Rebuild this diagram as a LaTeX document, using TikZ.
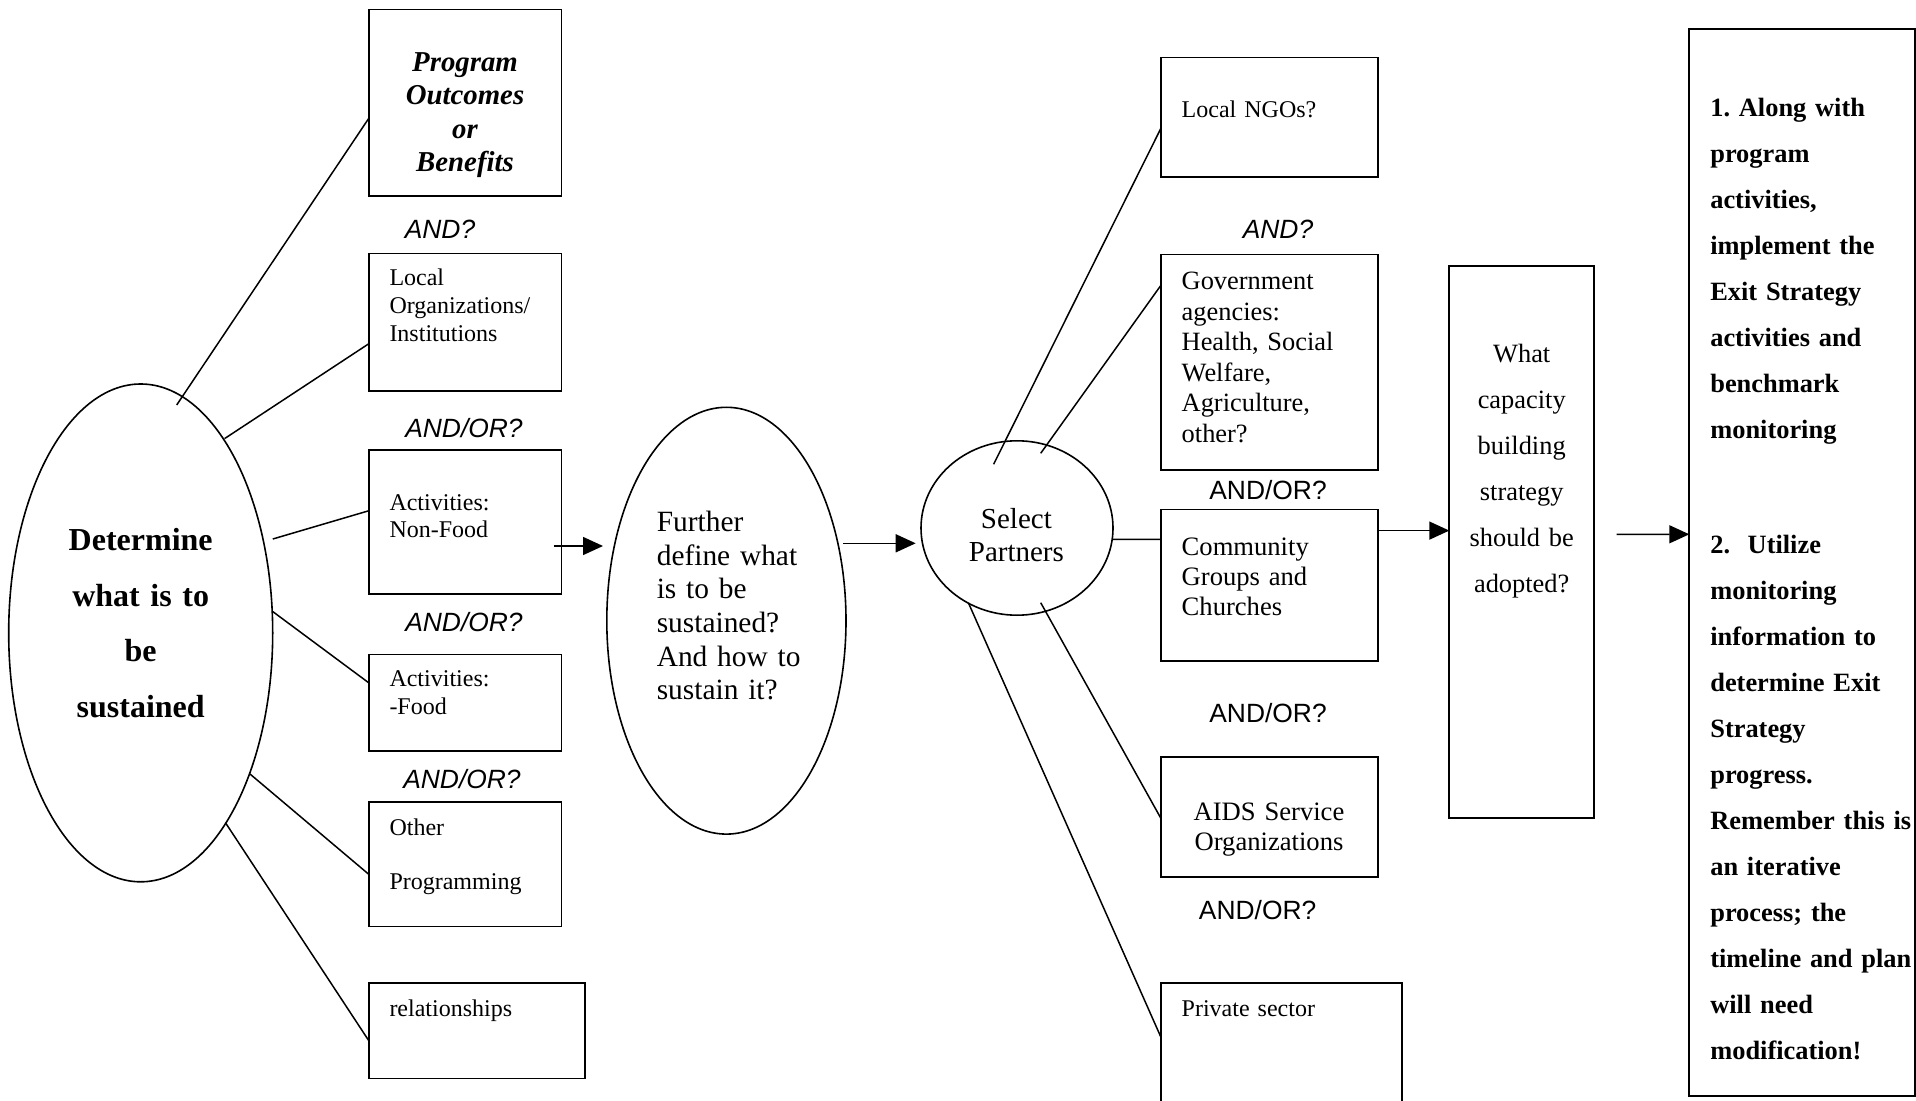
\documentclass[tikz,border=0pt]{standalone}
\usepackage{fontspec}
\setmainfont{Liberation Serif}
\newfontfamily\arialf{Liberation Sans}
\usetikzlibrary{shapes.geometric,arrows.meta,calc}
\frenchspacing
\tikzset{
  box/.style={draw, line width=0.9pt, rectangle, inner sep=0pt, outer sep=0pt},
  oval/.style={draw, line width=0.8pt, ellipse, inner sep=0pt, outer sep=0pt},
  conn/.style={line width=0.75pt},
  arr/.style={line width=0.75pt, -{Triangle[length=10pt,width=9pt]}},
  txt/.style={inner sep=0pt, outer sep=0pt, align=left, text width=#1, anchor=base west},
  txt/.default=110pt,
  ctxt/.style={inner sep=0pt, outer sep=0pt, align=center, text width=#1, anchor=base},
  ctxt/.default=100pt,
  andlbl/.style={inner sep=0pt, font=\arialf\itshape\fontsize{13.2}{15}\selectfont},
  orlbl/.style={inner sep=0pt, font=\arialf\fontsize{13.2}{15}\selectfont},
}
\begin{document}
\begin{tikzpicture}[x=0.5pt,y=-0.5pt]
\useasboundingbox (0,0) rectangle (1916,1101);
\clip (0,0) rectangle (1916,1101);

% ---- shapes ----
\node[oval, minimum width=132pt, minimum height=248.9pt] (L) at (140.7,632.9) {};
\node[box, minimum width=96.25pt, minimum height=93.4pt] (prog) at (465.25,103) {};
\node[box, minimum width=96.25pt, minimum height=68.7pt] (locorg) at (465.25,322.3) {};
\node[box, minimum width=96.25pt, minimum height=72pt] (nonfood) at (465.25,522) {};
\node[box, minimum width=96.25pt, minimum height=48.25pt] (food) at (465.25,702.75) {};
\node[box, minimum width=96.25pt, minimum height=62.2pt] (other) at (465.25,864.2) {};
\node[box, minimum width=108pt, minimum height=47.75pt] (rel) at (477,1030.75) {};
\node[oval, minimum width=119.6pt, minimum height=213.4pt] (M) at (726.4,620.7) {};
\node[oval, minimum width=96pt, minimum height=87.2pt] (S) at (1017,528) {};
\node[box, minimum width=108.65pt, minimum height=59.85pt] (ngo) at (1269.35,117.45) {};
\node[box, minimum width=108.65pt, minimum height=107.75pt] (gov) at (1269.35,362.35) {};
\node[box, minimum width=108.65pt, minimum height=75.6pt] (comm) at (1269.35,585.1) {};
\node[box, minimum width=108.65pt, minimum height=60pt] (aids) at (1269.35,816.7) {};
\node[box, minimum width=120.5pt, minimum height=63.35pt] (priv) at (1281.2,1046.65) {};
\node[box, minimum width=72.35pt, minimum height=276.15pt] (cap) at (1521.65,542.15) {};
\node[box, minimum width=112.85pt, minimum height=533.5pt] (right) at (1802.15,562.5) {};

% ---- texts ----
\node[ctxt=100pt, font=\bfseries\fontsize{16}{27.75}\selectfont] (Ltxt) at (140.7,550.5)
  {Determine\\what is to\\be\\sustained};
\node[ctxt=95pt, font=\bfseries\itshape\fontsize{14.4}{16.7}\selectfont] (progT) at (465,71.4)
  {Program\\Outcomes\\or\\Benefits};
\node[andlbl] (and1) at (440,229) {AND?};
\node[txt=85pt, font=\fontsize{12}{14}\selectfont] (locT) at (389.5,285.7)
  {Local\\Organizations/\\Institutions};
\node[andlbl] (and2) at (464,428) {AND/OR?};
\node[txt=85pt, font=\fontsize{12}{13.5}\selectfont] (nonT) at (389.5,510.7)
  {Activities:\\Non-Food};
\node[andlbl] (and3) at (464,622) {AND/OR?};
\node[txt=85pt, font=\fontsize{12}{14}\selectfont] (foodT) at (389.5,686.7)
  {Activities:\\-Food};
\node[andlbl] (and4) at (462,779) {AND/OR?};
\node[txt=85pt, font=\fontsize{12}{13.5}\selectfont] (otherT) at (389.5,835)
  {Other\\[13.5pt]Programming};
\node[txt=90pt, font=\fontsize{12}{14}\selectfont] (relT) at (389.5,1016) {relationships};

\node[txt=110pt, font=\fontsize{14.7}{16.8}\selectfont] (furT) at (656.8,531.7)
  {Further\\define what\\is to be\\sustained?\\And how to\\sustain it?};
\node[ctxt=90pt, font=\fontsize{14.5}{16.7}\selectfont] (selT) at (1016.4,528.3)
  {Select\\Partners};

\node[txt=95pt, font=\fontsize{12}{14}\selectfont] (ngoT) at (1181.7,118) {Local NGOs?};
\node[andlbl] (and5) at (1278,229) {AND?};
\node[txt=95pt, font=\fontsize{13.2}{15.3}\selectfont] (govT) at (1181.7,289.5)
  {Government\\agencies:\\Health, Social\\Welfare,\\Agriculture,\\other?};
\node[orlbl] (or6) at (1268,490) {AND/OR?};
\node[txt=95pt, font=\fontsize{13.3}{15}\selectfont] (commT) at (1181.7,555)
  {Community\\Groups and\\Churches};
\node[orlbl] (or7) at (1268,713) {AND/OR?};
\node[ctxt=100pt, font=\fontsize{13.3}{15.35}\selectfont] (aidsT) at (1269,820)
  {AIDS Service\\Organizations};
\node[orlbl] (or8) at (1257.6,910) {AND/OR?};
\node[txt=105pt, font=\fontsize{12}{14}\selectfont] (privT) at (1181.7,1016) {Private sector};

\node[ctxt=70pt, font=\fontsize{13.2}{23}\selectfont] (capT) at (1521.7,363)
  {What\\capacity\\building\\strategy\\should be\\adopted?};

\node[txt=110pt, font=\bfseries\fontsize{13.2}{23}\selectfont] (rightT) at (1710.3,116.7)
  {1. Along with\\program\\activities,\\implement the\\Exit Strategy\\activities and\\benchmark\\monitoring\\[34.5pt]
   2.~ Utilize\\monitoring\\information to\\determine Exit\\Strategy\\progress.\\Remember this is\\an iterative\\process; the\\timeline and plan\\will need\\modification!};

% ---- connectors ----
\draw[conn] ($(L.center)+(36,-227.9)$) -- ($(prog.west)+(0,15)$);
\draw[conn] ($(L.center)+(83.9,-194.3)$) -- ($(locorg.west)+(0,21.3)$);
\draw[conn] ($(L.center)+(132.1,-93.9)$) -- ($(nonfood.west)+(0,-11.3)$);
\draw[conn] ($(L.center)+(132.1,-21.3)$) -- ($(food.west)+(0,-19.75)$);
\draw[conn] ($(L.center)+(109.3,141.1)$) -- ($(other.west)+(0,10.3)$);
\draw[conn] ($(L.center)+(84.7,189.7)$) -- ($(rel.west)+(0,10.25)$);

\draw[conn] ($(S.center)+(-23.4,-63.7)$) -- ($(ngo.west)+(0,11.25)$);
\draw[conn] ($(S.center)+(23.7,-74.7)$) -- ($(gov.west)+(0,-76.75)$);
\draw[conn] ($(S.east)+(0,11.3)$) -- ($(comm.west)+(0,-45.8)$);
\draw[conn] ($(S.center)+(23.7,74.7)$) -- ($(aids.west)+(0,1.3)$);
\draw[conn] ($(S.center)+(-48.4,75.3)$) -- ($(priv.north west)+(0,53.4)$);

\draw[arr] ($(nonfood.east)+(-8,24)$) -- ($(M.west)+(-3.8,-74.7)$);
\draw[arr] ($(M.east)+(-3,-77.4)$) -- ($(S.west)+(-5.3,15.3)$);
\draw[arr] ($(comm.north east)+(0,21.1)$) -- ($(cap.west)+(0,-11.55)$);
\draw[arr] ($(cap.east)+(22.7,-7.85)$) -- ($(right.west)+(0,-28.2)$);
\end{tikzpicture}
\end{document}
